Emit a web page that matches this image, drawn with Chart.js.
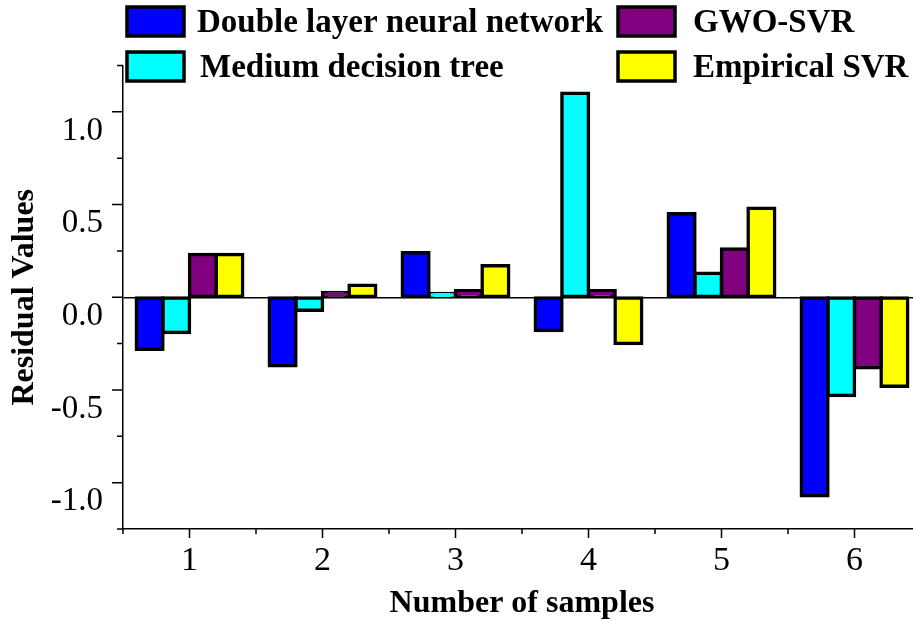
<!DOCTYPE html>
<html>
<head>
<meta charset="utf-8">
<script src="https://cdn.jsdelivr.net/npm/chart.js@4"></script>
<style>
  html, body { margin: 0; padding: 0; background: #fff; overflow: hidden; }
  #box { width: 930px; height: 624px; }
</style>
</head>
<body>
<div id="box"><canvas id="c"></canvas></div>
<script>
// residual values
var samples = ['1', '2', '3', '4', '5', '6'];
var seriesNames = ['Double layer neural network', 'Medium decision tree', 'GWO-SVR', 'Empirical SVR'];
var dlnn = [-0.28, -0.37, 0.24, -0.18, 0.45, -1.07];
var mdt = [-0.19, -0.07, 0.02, 1.10, 0.13, -0.53];
var gwo = [0.23, 0.025, 0.035, 0.035, 0.26, -0.38];
var emp = [0.23, 0.065, 0.17, -0.25, 0.48, -0.48];
var colors = ['#0000ff', '#00ffff', '#800080', '#ffff00'];

var serif = "'Liberation Serif', 'Times New Roman', serif";

// minor/major tick marks on both axes
var tickMarks = {
  id: 'tickMarks',
  afterDraw: function(chart) {
    var ctx = chart.ctx, a = chart.chartArea;
    var y = chart.scales.y, x = chart.scales.x;
    ctx.save();
    ctx.strokeStyle = '#000';
    ctx.lineWidth = 1.5;
    ctx.beginPath();
    for (var k = -5; k <= 5; k++) {
      var v = k * 0.25;
      var py = y.getPixelForValue(v);
      var len = (k % 2 === 0) ? 11 : 6;
      ctx.moveTo(a.left - len, py);
      ctx.lineTo(a.left, py);
    }
    var half = (x.getPixelForValue(1) - x.getPixelForValue(0)) / 2;
    for (var i = 0; i < samples.length; i++) {
      var px = x.getPixelForValue(i);
      ctx.moveTo(px, a.bottom);
      ctx.lineTo(px, a.bottom + 9);
      ctx.moveTo(px - half, a.bottom);
      ctx.lineTo(px - half, a.bottom + 5);
      ctx.moveTo(px + half, a.bottom);
      ctx.lineTo(px + half, a.bottom + 5);
    }
    ctx.stroke();
    ctx.restore();
  }
};

// two column legend on top
var legendBoxes = {
  id: 'legendBoxes',
  afterDraw: function(chart) {
    var ctx = chart.ctx;
    var colX = [127, 618], textX = [197, 693];
    var rowY = [7, 52], baseY = [32, 77];
    ctx.save();
    ctx.font = 'bold 33px ' + serif;
    ctx.textBaseline = 'alphabetic';
    ctx.textAlign = 'left';
    chart.data.datasets.forEach(function(ds, i) {
      var col = i < 2 ? 0 : 1, row = i % 2;
      ctx.fillStyle = ds.backgroundColor;
      ctx.fillRect(colX[col], rowY[row], 57, 29);
      ctx.lineWidth = 3.5;
      ctx.strokeStyle = '#000';
      ctx.strokeRect(colX[col], rowY[row], 57, 29);
      ctx.fillStyle = '#000';
      ctx.fillText(ds.label, textX[col] + (i === 1 ? 3 : 0), baseY[row]);
    });
    ctx.restore();
  }
};

var sets = [dlnn, mdt, gwo, emp].map(function(d, i) {
  return {
    label: seriesNames[i],
    data: d,
    backgroundColor: colors[i],
    borderColor: '#000',
    borderWidth: 3.5,
    borderSkipped: false,
    inflateAmount: 1.75
  };
});

new Chart(document.getElementById('c'), {
  type: 'bar',
  data: { labels: samples, datasets: sets },
  options: {
    responsive: true,
    maintainAspectRatio: false,
    animation: false,
    devicePixelRatio: 1,
    categoryPercentage: 0.8,
    barPercentage: 1.0,
    layout: { padding: { top: 65.5, right: 9, left: 0, bottom: 0 } },
    plugins: { legend: { display: false }, tooltip: { enabled: false } },
    scales: {
      x: {
        afterFit: function(s) { s.height = 95; },
        grid: { display: false, drawTicks: false },
        border: { display: true, color: '#000', width: 1.5 },
        ticks: { color: '#000', font: { family: serif, size: 34 }, padding: 12, maxRotation: 0, autoSkip: false },
        title: { display: true, text: 'Number of samples', color: '#000', font: { family: serif, size: 32, weight: 'bold' }, padding: { top: 0, bottom: 1 } }
      },
      y: {
        min: -1.25,
        max: 1.25,
        afterFit: function(s) { s.width = 123; },
        afterBuildTicks: function(s) {
          s.ticks = [-1.25, -1, -0.5, 0, 0.5, 1, 1.25].map(function(v) { return { value: v }; });
        },
        grid: {
          drawTicks: false,
          lineWidth: 1.5,
          color: function(c) { return c.tick && c.tick.value === 0 ? '#000' : 'rgba(0,0,0,0)'; }
        },
        border: { display: true, color: '#000', width: 1.5 },
        ticks: {
          color: '#000',
          font: { family: serif, size: 33 },
          padding: 20,
          labelOffset: 19,
          callback: function(v) {
            if (Math.abs(v * 2 - Math.round(v * 2)) > 1e-6) return '';
            return v.toFixed(1);
          }
        },
        title: { display: true, text: 'Residual Values', color: '#000', font: { family: serif, size: 32, weight: 'bold' }, padding: { top: 6, bottom: 0 } }
      }
    }
  },
  plugins: [tickMarks, legendBoxes]
});
</script>
</body>
</html>
